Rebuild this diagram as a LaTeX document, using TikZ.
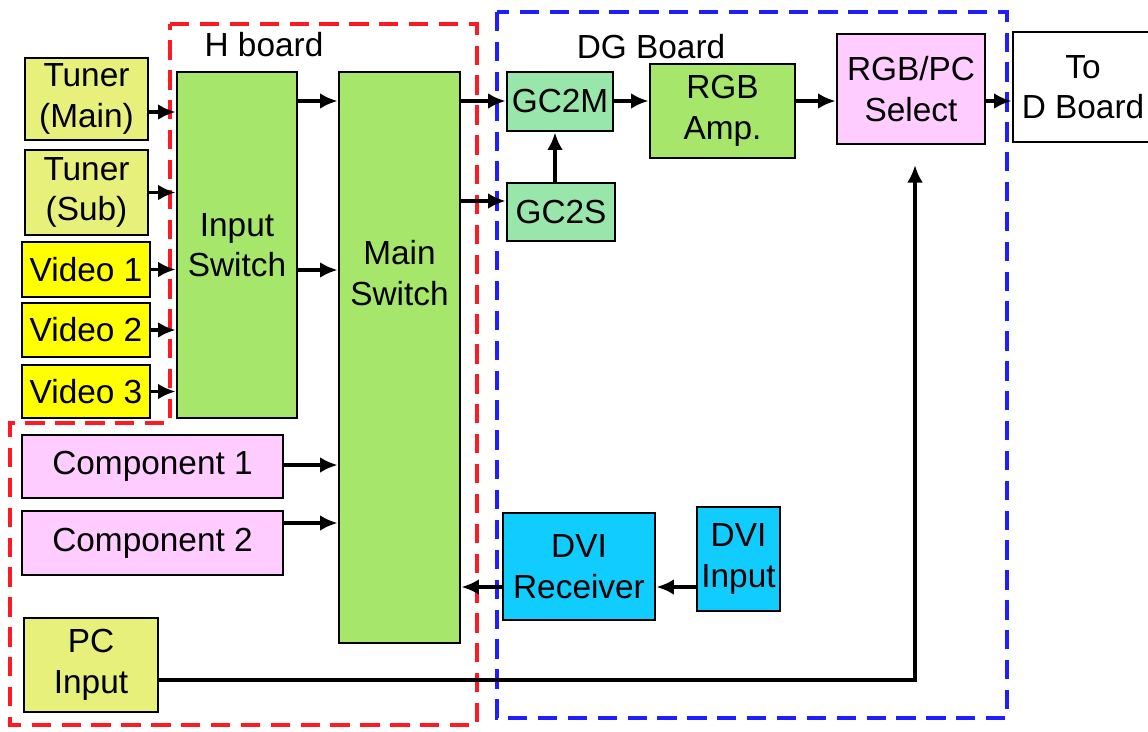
\documentclass[tikz,border=0pt]{standalone}
\usepackage{fontspec}
\setmainfont{Liberation Sans}
\usetikzlibrary{arrows.meta,positioning,calc}
\definecolor{TVtuner}{RGB}{230,240,122}
\definecolor{TVvideo}{RGB}{255,255,0}
\definecolor{TVgreen}{RGB}{166,230,106}
\definecolor{TVpink}{RGB}{255,204,255}
\definecolor{TVmint}{RGB}{153,230,170}
\definecolor{TVcyan}{RGB}{17,204,255}
\definecolor{TVred}{RGB}{255,25,35}
\definecolor{TVblue}{RGB}{30,30,255}

\tikzset{
  blk/.style 2 args={draw,line width=1.6pt,align=center,inner sep=1pt,
    minimum width=#1*0.2mm,minimum height=#2*0.2mm,font=\fontsize{19}{23}\selectfont},
  lbl/.style={align=center,inner sep=0pt,font=\fontsize{19}{23}\selectfont},
  sig/.style={-{Latex[length=10pt,width=9pt]},line width=2.1pt},
  board/.style={dash pattern=on 11pt off 6pt,line width=2.8pt},
}

\begin{document}
\begin{tikzpicture}[x=0.2mm,y=-0.2mm]
    \useasboundingbox (0,0) rectangle (1148,731);
    % board outlines
    \draw[board,TVred] (170,24)--(477,24)--(477,725)--(10,725)--(10,423)--(170,423)--cycle;
    \draw[board,TVblue] (497,12) rectangle (1007,718);
    \node[lbl] (hLbl) at (264,45) {H board};
    \node[lbl] (dgLbl) at (651,47) {DG Board};

    % sources
    \node[blk={123}{82},fill=TVtuner] (tunerM) at (86.5,99) {Tuner\\(Main)};
    \node[blk={123}{85},fill=TVtuner] (tunerS) at (86.5,192.5) {Tuner\\(Sub)};
    \node[blk={128}{55},fill=TVvideo] (vid1) at (86,269.5) {Video 1};
    \node[blk={128}{54},fill=TVvideo] (vid2) at (86,330) {Video 2};
    \node[blk={128}{53},fill=TVvideo] (vid3) at (86,391.5) {Video 3};
    \node[blk={261}{63},fill=TVpink] (comp1) at (152.5,466.5) {Component 1};
    \node[blk={261}{64},fill=TVpink] (comp2) at (152.5,543) {Component 2};
    \node[blk={134}{94},fill=TVtuner] (pcIn) at (91,665) {PC\\Input};

    % H board
    \node[blk={120}{346},fill=TVgreen] (inSw) at (237,245) {Input\\Switch};
    \node[blk={121}{571},fill=TVgreen] (mainSw) at (399.5,357.5) {};
    \node[lbl] (mainTxt) at (399.5,273) {Main\\Switch};

    % DG board
    \node[blk={106}{59},fill=TVmint] (gc2m) at (560,101.5) {GC2M};
    \node[blk={108}{58},fill=TVmint] (gc2s) at (561,212) {GC2S};
    \node[blk={145}{94},fill=TVgreen] (rgbAmp) at (722.5,111) {RGB\\Amp.};
    \node[blk={148}{110},fill=TVpink] (sel) at (911,89) {RGB/PC\\Select};
    \node[blk={152}{107},fill=TVcyan] (dviRx) at (579,566.5) {DVI\\Receiver};
    \node[blk={83}{104},fill=TVcyan] (dviIn) at (738.5,559) {DVI\\Input};
    \node[blk={140}{110},fill=white] (toD) at (1083,87) {To\\D Board};

    % signal paths
    \draw[sig] (tunerM.east |- 0,112) -- (inSw.west |- 0,112);
    \foreach \src in {tunerS,vid1,vid2,vid3}
      \draw[sig] (\src.east) -- (inSw.west |- \src.east);
    \foreach \y in {101,270}
      \draw[sig] (inSw.east |- 0,\y) -- (mainSw.west |- 0,\y);
    \draw[sig] (comp1.east |- 0,465) -- (mainSw.west |- 0,465);
    \draw[sig] (comp2.east |- 0,523) -- (mainSw.west |- 0,523);
    \draw[sig] (mainSw.east |- 0,101) -- (gc2m.west |- 0,101);
    \draw[sig] (mainSw.east |- 0,201) -- (gc2s.west |- 0,201);
    \draw[sig] (gc2s.north -| 555,0) -- (gc2m.south -| 555,0);
    \draw[sig] (gc2m.east |- 0,101) -- (rgbAmp.west |- 0,101);
    \draw[sig] (rgbAmp.east |- 0,101) -- (sel.west |- 0,101);
    \draw[sig] (sel.east |- 0,101) -- (toD.west |- 0,101);
    \draw[sig] (dviIn.west |- 0,587) -- (dviRx.east |- 0,587);
    \draw[sig] (dviRx.west |- 0,587) -- (mainSw.east |- 0,587);
    \coordinate (pcTip) at (915,165);
    \draw[sig] (pcIn.east |- 0,680) -| (pcTip);
\end{tikzpicture}
\end{document}
